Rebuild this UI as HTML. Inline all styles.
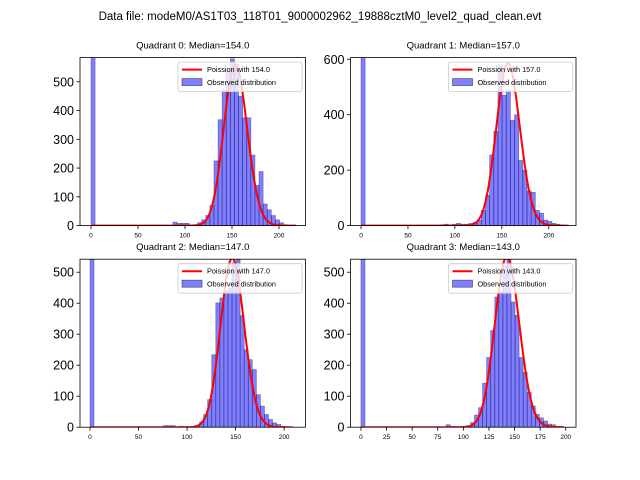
<!DOCTYPE html>
<html><head><meta charset="utf-8">
<style>
html,body{margin:0;padding:0;background:#fff;}
svg{display:block;font-family:"Liberation Sans","DejaVu Sans",sans-serif;}
</style></head>
<body>
<svg id="fig" width="640" height="480" viewBox="0 0 640 480">
<text x="320" y="20" text-anchor="middle" font-size="11.5" fill="#000">Data file: modeM0/AS1T03_118T01_9000002962_19888cztM0_level2_quad_clean.evt</text>
</svg>
<script>
// ---- data ----
const quadrantNames = ["Quadrant 0","Quadrant 1","Quadrant 2","Quadrant 3"];
const medians = [154.0, 157.0, 147.0, 143.0];
const binWidths = [4.36, 4.42, 4.18, 3.96];
const curvePeaks = [560, 585, 545, 550];
const countsQ0 = [3000,0,0,0,0,0,0,0,0,0,0,0,0,0,0,0,0,0,0,0,12,8,8,8,0,3,10,20,35,70,225,368,472,540,580,560,450,375,375,245,140,188,75,55,35,20,10,3,1,0];
const countsQ1 = [3000,0,0,0,0,0,0,0,0,0,0,0,0,0,0,0,0,0,0,3,5,3,5,8,5,5,8,12,20,55,110,255,340,580,470,490,380,400,235,200,125,120,55,45,20,15,8,5,2,1];
const countsQ2 = [3000,0,0,0,0,0,0,0,0,0,0,0,0,0,0,0,0,0,5,5,5,0,3,0,0,0,5,17,41,89,234,401,417,439,450,530,540,360,250,218,186,105,68,41,25,14,9,3,0,0];
const countsQ3 = [3000,0,0,0,0,0,0,0,0,0,0,0,0,0,0,0,0,0,0,0,0,8,3,2,0,3,5,15,39,63,142,225,312,420,437,520,545,404,361,225,177,112,68,41,30,20,10,8,3,2];
const allCounts = [countsQ0, countsQ1, countsQ2, countsQ3];
const xTicksQ = [[0,50,100,150,200],[0,50,100,150,200],[0,50,100,150,200],[0,25,50,75,100,125,150,175,200]];
const yTicksQ = [[0,100,200,300,400,500],[0,200,400,600],[0,100,200,300,400,500],[0,100,200,300,400,500]];
const xLims = [[-11.7,228.2],[-11.2,229],[-10.3,222],[-10.2,210]];
const yLims = [[0,584],[0,606],[0,542],[0,542]];
// ---- layout ----
const NS = "http://www.w3.org/2000/svg";
const svg = document.getElementById("fig");
const boxes = [[80,57.6],[350.5,57.6],[80,259.2],[350.5,259.2]];
const AW = 225.5, AH = 168;
function mk(tag, attrs, parent){const e=document.createElementNS(NS,tag);for(const k in attrs)e.setAttribute(k,attrs[k]);(parent||svg).appendChild(e);return e;}
function lnGamma(z){
  if(z<7){let p=1;while(z<7){p*=z;z+=1;}return lnGamma(z)-Math.log(p);}
  return (z-0.5)*Math.log(z)-z+0.5*Math.log(2*Math.PI)+1/(12*z)-1/(360*z*z*z);
}
function logPmf(k,l){return k*Math.log(l)-l-lnGamma(k+1);}

for(let q=0;q<4;q++){
  const [L,T]=boxes[q];
  const xl=xLims[q], yl=yLims[q];
  const sx=v=>L+(v-xl[0])/(xl[1]-xl[0])*AW;
  const sy=v=>T+AH-(v-yl[0])/(yl[1]-yl[0])*AH;
  const g=mk("g",{});
  
  
  const cp=mk("clipPath",{id:"clip"+q},g);
  mk("rect",{x:L,y:T,width:AW,height:AH},cp);
  mk("rect",{x:L,y:T,width:AW,height:AH,fill:"#fff"},g);
  const t=mk("text",{x:L+AW/2,y:T-9,"text-anchor":"middle","font-size":"9.5",fill:"#000"},g);
  t.textContent=quadrantNames[q]+": Median="+medians[q].toFixed(1);
  
  
  const plot=mk("g",{"clip-path":"url(#clip"+q+")"},g);
  const counts=allCounts[q], w=binWidths[q], lam=medians[q];
  // bars
  for(let i=0;i<counts.length;i++){
    if(counts[i]<=0)continue;
    const x0=sx(i*w), x1=sx((i+1)*w);
    const r=mk("rect",{x:x0,y:sy(counts[i]),width:x1-x0,height:sy(0)-sy(counts[i]),fill:"rgba(0,0,255,0.5)",stroke:"rgba(0,0,60,0.4)","stroke-width":"0.7"},plot);
    
    
  }
  // poisson curve on top
  const ref=logPmf(Math.floor(lam),lam);
  const xmax=counts.length*w;
  let d="";
  for(let k=0;k<=Math.floor(xmax);k++){
    const y=curvePeaks[q]*Math.exp(logPmf(k,lam)-ref);
    d+=(k?"L":"M")+sx(k).toFixed(2)+","+sy(y).toFixed(2);
  }
  const curve=mk("path",{d:d,fill:"none",stroke:"#ff0000","stroke-width":"2"},plot);
  
  
  const sp=mk("rect",{x:L,y:T,width:AW,height:AH,fill:"none",stroke:"#000","stroke-width":"0.8"},g);
  
  
  xTicksQ[q].forEach(v=>{
    const X=sx(v);
    mk("line",{x1:X,y1:T+AH,x2:X,y2:T+AH+3.5,stroke:"#000","stroke-width":"0.8"},g);
    const tl=mk("text",{x:X,y:T+AH+12,"text-anchor":"middle","font-size":"6.5",fill:"#000"},g);
    tl.textContent=v;
    
    
  });
  yTicksQ[q].forEach(v=>{
    const Y=sy(v);
    mk("line",{x1:L-3.5,y1:Y,x2:L,y2:Y,stroke:"#000","stroke-width":"0.8"},g);
    const tl=mk("text",{x:L-6,y:Y+4.5,"text-anchor":"end","font-size":"12.5",fill:"#000"},g);
    tl.textContent=v;
    
    
  });
  const lg=mk("g",{},g);
  
  
  const lx=L+AW-127.5, ly=T+4.5;
  mk("rect",{x:lx,y:ly,width:124,height:29.5,rx:2,fill:"rgba(255,255,255,0.8)",stroke:"#ccc","stroke-width":"0.8"},lg);
  mk("line",{x1:lx+4,y1:ly+7.5,x2:lx+24,y2:ly+7.5,stroke:"#ff0000","stroke-width":"2"},lg);
  const t1=mk("text",{x:lx+29,y:ly+10,"font-size":"7.3",fill:"#000"},lg);
  t1.textContent="Poission with "+medians[q].toFixed(1);
  
  
  mk("rect",{x:lx+4,y:ly+16.5,width:20,height:7,fill:"rgba(0,0,255,0.5)",stroke:"rgba(0,0,0,0.5)","stroke-width":"0.8"},lg);
  const t2=mk("text",{x:lx+29,y:ly+23,"font-size":"7.3",fill:"#000"},lg);
  t2.textContent="Observed distribution";
  
  
}
</script>
</body></html>
